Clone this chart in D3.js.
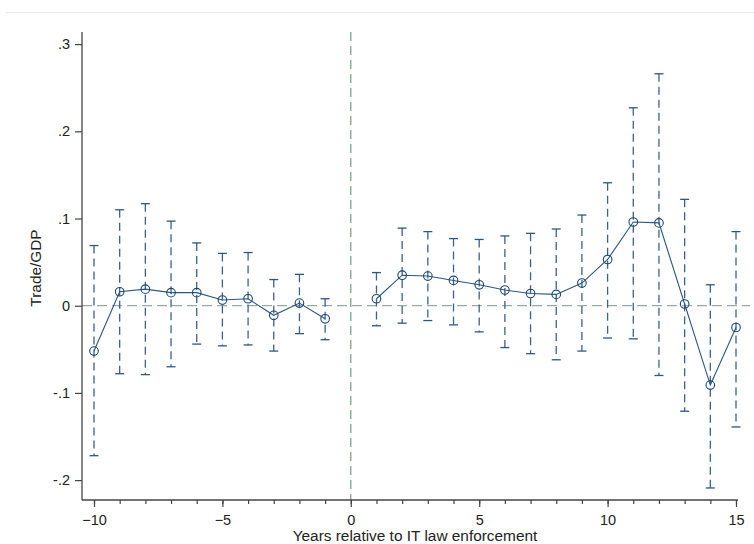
<!DOCTYPE html>
<html>
<head>
<meta charset="utf-8">
<script src="https://cdn.jsdelivr.net/npm/d3@7"></script>
<style>
  html, body { margin: 0; padding: 0; background: #fff; }
  svg { display: block; font-family: "Liberation Sans", Arial, sans-serif; }
</style>
</head>
<body>
<svg class="chart" width="754" height="544"></svg>
<script>
// event-study estimates
const years = [-10, -9, -8, -7, -6, -5, -4, -3, -2, -1, 1, 2, 3, 4, 5, 6, 7, 8, 9, 10, 11, 12, 13, 14, 15];
const coef = [-0.052, 0.016, 0.019, 0.015, 0.015, 0.0065, 0.008, -0.011, 0.003, -0.015,
  0.008, 0.035, 0.034, 0.029, 0.024, 0.018, 0.014, 0.013, 0.026, 0.053, 0.096, 0.095, 0.002, -0.091, -0.025];
const ciHigh = [0.069, 0.110, 0.117, 0.097, 0.072, 0.060, 0.061, 0.030, 0.036, 0.008,
  0.038, 0.089, 0.085, 0.077, 0.076, 0.080, 0.083, 0.088, 0.104, 0.141, 0.227, 0.266, 0.122, 0.024, 0.085];
const ciLow = [-0.172, -0.078, -0.079, -0.070, -0.044, -0.046, -0.045, -0.052, -0.032, -0.039,
  -0.023, -0.020, -0.017, -0.022, -0.030, -0.048, -0.055, -0.062, -0.052, -0.037, -0.038, -0.080, -0.121, -0.209, -0.139];
const yTicks = [-0.2, -0.1, 0, 0.1, 0.2, 0.3];
const yTickLabels = ['-.2', '-.1', '0', '.1', '.2', '.3'];
const xMajor = [-10, -5, 0, 5, 10, 15];
const xMinor = d3.range(-10, 16);

const startApp = () => {
  const plot = { left: 82, right: 738, top: 32, bottom: 500 };
  const navy = '#1a476f';

  const xScale = d3.scaleLinear().domain([-10, 15]).range([94, 736]);
  const yScale = d3.scaleLinear().domain([-0.2228, 0.3139]).range([plot.bottom, plot.top]);

  const svg = d3.select('.chart');

  // faint frame line at the top of the graph region
  svg.append('line')
    .attr('x1', 6).attr('x2', 754)
    .attr('y1', 12.5).attr('y2', 12.5)
    .attr('stroke', '#e3ebeb');

  // reference lines
  svg.append('line')
    .attr('x1', plot.left).attr('x2', 750)
    .attr('y1', yScale(0)).attr('y2', yScale(0))
    .attr('stroke', '#95aca2')
    .attr('stroke-width', 1.2)
    .attr('stroke-dasharray', '10,5');
  svg.append('line')
    .attr('x1', xScale(0)).attr('x2', xScale(0))
    .attr('y1', plot.top).attr('y2', plot.bottom)
    .attr('stroke', '#5f9478')
    .attr('stroke-width', 1.1)
    .attr('stroke-dasharray', '9,5');

  const rows = years.map((year, i) => ({
    year, b: coef[i], lo: ciLow[i], hi: ciHigh[i],
  }));

  // confidence intervals
  const ci = svg.append('g');
  ci.selectAll('line.ci')
    .data(rows)
    .enter()
    .append('line')
    .attr('x1', d => xScale(d.year)).attr('x2', d => xScale(d.year))
    .attr('y1', d => yScale(d.hi)).attr('y2', d => yScale(d.lo))
    .attr('stroke', '#3b6289')
    .attr('stroke-width', 1.3)
    .attr('stroke-dasharray', '8,5');
  ['hi', 'lo'].forEach((key) => {
    ci.selectAll(`line.cap-${key}`)
      .data(rows)
      .enter()
      .append('line')
      .attr('x1', d => xScale(d.year) - 4.5).attr('x2', d => xScale(d.year) + 4.5)
      .attr('y1', d => yScale(d[key])).attr('y2', d => yScale(d[key]))
      .attr('stroke', '#2d5680')
      .attr('stroke-width', 1.3);
  });

  // point estimates, connected separately before and after enforcement
  const line = d3.line().x(d => xScale(d.year)).y(d => yScale(d.b));
  [rows.filter(d => d.year < 0), rows.filter(d => d.year > 0)].forEach((part) => {
    svg.append('path')
      .datum(part)
      .attr('d', line)
      .attr('fill', 'none')
      .attr('stroke', '#2c5580')
      .attr('stroke-width', 1.1);
  });
  svg.selectAll('circle.pt')
    .data(rows)
    .enter()
    .append('circle')
    .attr('cx', d => xScale(d.year))
    .attr('cy', d => yScale(d.b))
    .attr('r', 4.3)
    .attr('fill', 'none')
    .attr('stroke', navy)
    .attr('stroke-width', 1.1);

  // axes
  const yAxis = d3.axisLeft(yScale)
    .tickValues(yTicks)
    .tickFormat((v, i) => yTickLabels[i])
    .tickSize(7)
    .tickPadding(5);
  const gy = svg.append('g')
    .attr('transform', `translate(${plot.left},0)`)
    .call(yAxis);
  gy.select('.domain').remove();

  const gxMinor = svg.append('g')
    .attr('transform', `translate(0,${plot.bottom})`)
    .call(d3.axisBottom(xScale).tickValues(xMinor).tickSize(4).tickFormat(''));
  gxMinor.select('.domain').remove();

  const gx = svg.append('g')
    .attr('transform', `translate(0,${plot.bottom})`)
    .call(d3.axisBottom(xScale).tickValues(xMajor).tickSize(7).tickPadding(8).tickFormat(d3.format('d')));
  gx.select('.domain').remove();

  svg.selectAll('.tick line').attr('stroke', '#444').attr('stroke-width', 1.2);
  svg.selectAll('.tick text')
    .attr('font-size', 14.5)
    .attr('font-family', '"Liberation Sans", Arial, sans-serif')
    .attr('fill', '#222');

  svg.append('line')
    .attr('x1', plot.left).attr('x2', plot.left)
    .attr('y1', plot.top).attr('y2', plot.bottom)
    .attr('stroke', '#444').attr('stroke-width', 1.3);
  svg.append('line')
    .attr('x1', plot.left).attr('x2', plot.right)
    .attr('y1', plot.bottom).attr('y2', plot.bottom)
    .attr('stroke', '#444').attr('stroke-width', 1.3);

  // axis titles
  svg.append('text')
    .attr('transform', `translate(41,${(plot.top + plot.bottom) / 2 + 2}) rotate(-90)`)
    .attr('text-anchor', 'middle')
    .attr('font-size', 15.4)
    .attr('fill', '#222')
    .text('Trade/GDP');
  svg.append('text')
    .attr('x', 415)
    .attr('y', 541)
    .attr('text-anchor', 'middle')
    .attr('font-size', 15.4)
    .attr('fill', '#222')
    .text('Years relative to IT law enforcement');
};

window.onload = startApp;
</script>
</body>
</html>
